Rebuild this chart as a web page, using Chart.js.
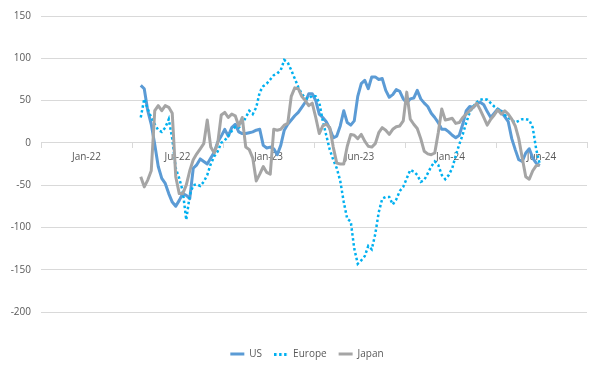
<!DOCTYPE html>
<html>
<head>
<meta charset="utf-8">
<script src="https://cdn.jsdelivr.net/npm/chart.js@4/dist/chart.umd.min.js"></script>
<style>
  html, body { margin: 0; padding: 0; background: #ffffff; }
  #wrap { width: 600px; height: 374px; }
</style>
</head>
<body>
<div id="wrap"><canvas id="c" width="600" height="374"></canvas></div>
<script>
// Axis labels (one per group of weeks)
const tickLabels = ['Jan-22', 'Jul-22', 'Jan-23', 'Jun-23', 'Jan-24', 'Jun-24'];
const weeksPerLabel = 26;
const firstWeek = 28; // index of the first weekly observation on the axis

const seriesNames = ['US', 'Europe', 'Japan'];

const us = [68, 64, 38, 22, -2, -28, -42, -48, -60, -70,
  -75, -68, -60, -62, -66, -30, -26, -19, -22, -25,
  -18, -11, 1, 8, 16, 8, 18, 22, 13, 11,
  11, 12, 13, 15, 16, -3, -6, -5, -7, -14,
  -3, 15, 22, 27, 32, 36, 42, 48, 58, 58,
  50, 34, 30, 25, 17, 6, 8, 20, 38, 24,
  21, 26, 55, 70, 74, 64, 78, 78, 75, 76,
  62, 54, 57, 63, 61, 52, 47, 52, 53, 62,
  52, 47, 43, 35, 30, 24, 16, 16, 13, 9,
  6, 9, 22, 38, 43, 42, 46, 48, 45, 37,
  30, 35, 40, 37, 31, 25, 5, -8, -20, -22,
  -12, -7, -18, -24, -27];

const europe = [30, 52, 40, 30, 22, 15, 13, 18, 28, 5,
  -30, -42, -57, -91, -62, -50, -49, -51, -46, -38,
  -25, -16, -10, 0, 3, 8, 14, 19, 18, 22,
  30, 38, 34, 42, 60, 67, 70, 75, 80, 82,
  86, 98, 95, 86, 76, 66, 58, 53, 52, 56,
  55, 48, 26, 9, -8, -20, -30, -45, -70, -90,
  -93, -125, -143, -139, -134, -122, -126, -108, -82, -66,
  -64, -64, -73, -67, -57, -52, -42, -32, -34, -38,
  -46, -44, -36, -28, -22, -26, -38, -43, -38, -30,
  -15, -2, 10, 24, 36, 43, 48, 51, 52, 51,
  47, 43, 40, 38, 33, 30, 27, 24, 26, 28,
  28, 27, 18, -8, -25];

const japan = [-40, -52, -44, -33, 38, 44, 38, 44, 42, 35,
  -40, -60, -60, -50, -33, -20, -13, -7, -1, 27,
  -5, -12, 0, 33, 36, 30, 34, 32, 20, 30,
  -5, -8, -18, -45, -37, -28, -35, -37, 16, 15,
  16, 21, 23, 55, 65, 64, 55, 50, 44, 47,
  30, 11, 20, 22, 18, -5, -24, -25, -25, -4,
  10, 9, 5, 10, 2, -4, -5, -1, 12, 18,
  15, 10, 16, 19, 20, 26, 60, 28, 22, 17,
  5, -10, -13, -14, -12, 12, 40, 27, 28, 29,
  23, 24, 30, 34, 38, 42, 47, 39, 30, 21,
  28, 33, 39, 34, 38, 34, 28, 20, 5, -18,
  -40, -43, -33, -27, -26];

const yTicks = { min: -200, max: 150, step: 50 };

const toPoints = arr => arr.map((v, i) => ({ x: firstWeek + i + 0.5, y: v }));
const totalWeeks = tickLabels.length * weeksPerLabel;
const labelCenters = tickLabels.map((_, i) => i * weeksPerLabel + weeksPerLabel / 2);

const FONT = "'Open Sans', 'DejaVu Sans', sans-serif";
const TEXT = '#595959';

// dotted legend sample for dashed series
function dottedSample(color, width, dash, thickness) {
  const cv = document.createElement('canvas');
  cv.width = width; cv.height = Math.ceil(thickness);
  const g = cv.getContext('2d');
  g.fillStyle = color;
  for (let x = 0; x < width; x += dash * 2) g.fillRect(x, 0, Math.min(dash, width - x), thickness);
  return cv;
}

// centre the legend slightly right of the canvas centre, as in the original
const legendShift = {
  id: 'legendShift',
  afterLayout(chart) {
    const lg = chart.legend;
    if (!lg) return;
    const ca = chart.chartArea;
    const d = (ca.left + ca.right) / 2 - (lg.left + lg.right) / 2 - 7;
    lg.left += d; lg.right += d;
  }
};

new Chart(document.getElementById('c'), {
  type: 'line',
  data: {
    datasets: [
      { label: seriesNames[0], data: toPoints(us), borderColor: '#5b9bd5', backgroundColor: '#5b9bd5',
        borderWidth: 3, pointRadius: 0, pointStyle: 'line', tension: 0, borderJoinStyle: 'round', order: 2 },
      { label: seriesNames[1], data: toPoints(europe), borderColor: '#00b0f0', backgroundColor: '#00b0f0',
        borderWidth: 2.5, borderDash: [2.5, 2.5], pointRadius: 0, pointStyle: 'line', tension: 0, order: 1 },
      { label: seriesNames[2], data: toPoints(japan), borderColor: '#a5a5a5', backgroundColor: '#a5a5a5',
        borderWidth: 3, pointRadius: 0, pointStyle: 'line', tension: 0, borderJoinStyle: 'round', order: 0 }
    ]
  },
  plugins: [legendShift],
  options: {
    responsive: false,
    animation: false,
    events: [],
    layout: { padding: { top: 13, right: 13, bottom: 5, left: 0 } },
    plugins: {
      tooltip: { enabled: false },
      legend: {
        position: 'bottom',
        title: { display: true, text: '', padding: { top: 13, bottom: 0 }, font: { size: 10 } },
        labels: {
          usePointStyle: true,
          pointStyleWidth: 14,
          boxHeight: 10,
          padding: 12,
          color: TEXT,
          font: { family: FONT, size: 10 },
          sort: (a, b) => a.datasetIndex - b.datasetIndex,
          generateLabels: chart => {
            const items = Chart.defaults.plugins.legend.labels.generateLabels(chart);
            items.forEach(it => {
              const ds = chart.data.datasets[it.datasetIndex];
              if (ds.borderDash) {
                it.pointStyle = dottedSample(ds.borderColor, 14, 2.5, 3);
              }
            });
            return items;
          }
        }
      }
    },
    scales: {
      x: {
        type: 'linear',
        position: { y: 0 },
        min: 0,
        max: totalWeeks,
        afterBuildTicks: s => { s.ticks = labelCenters.map(v => ({ value: v })); },
        ticks: {
          color: TEXT,
          font: { family: FONT, size: 10 },
          padding: 3,
          maxRotation: 0,
          autoSkip: false,
          callback: (v, i) => tickLabels[i]
        },
        grid: { offset: true, drawOnChartArea: false, drawTicks: true, tickLength: 5, color: '#d9d9d9' },
        border: { display: true, color: '#d9d9d9', width: 1 }
      },
      y: {
        min: yTicks.min,
        max: yTicks.max,
        afterFit: s => { s.width = 41; },
        ticks: { stepSize: yTicks.step, color: TEXT, font: { family: FONT, size: 10 }, padding: 10 },
        grid: { color: '#d9d9d9', drawTicks: false },
        border: { display: false }
      }
    }
  }
});
</script>
</body>
</html>
